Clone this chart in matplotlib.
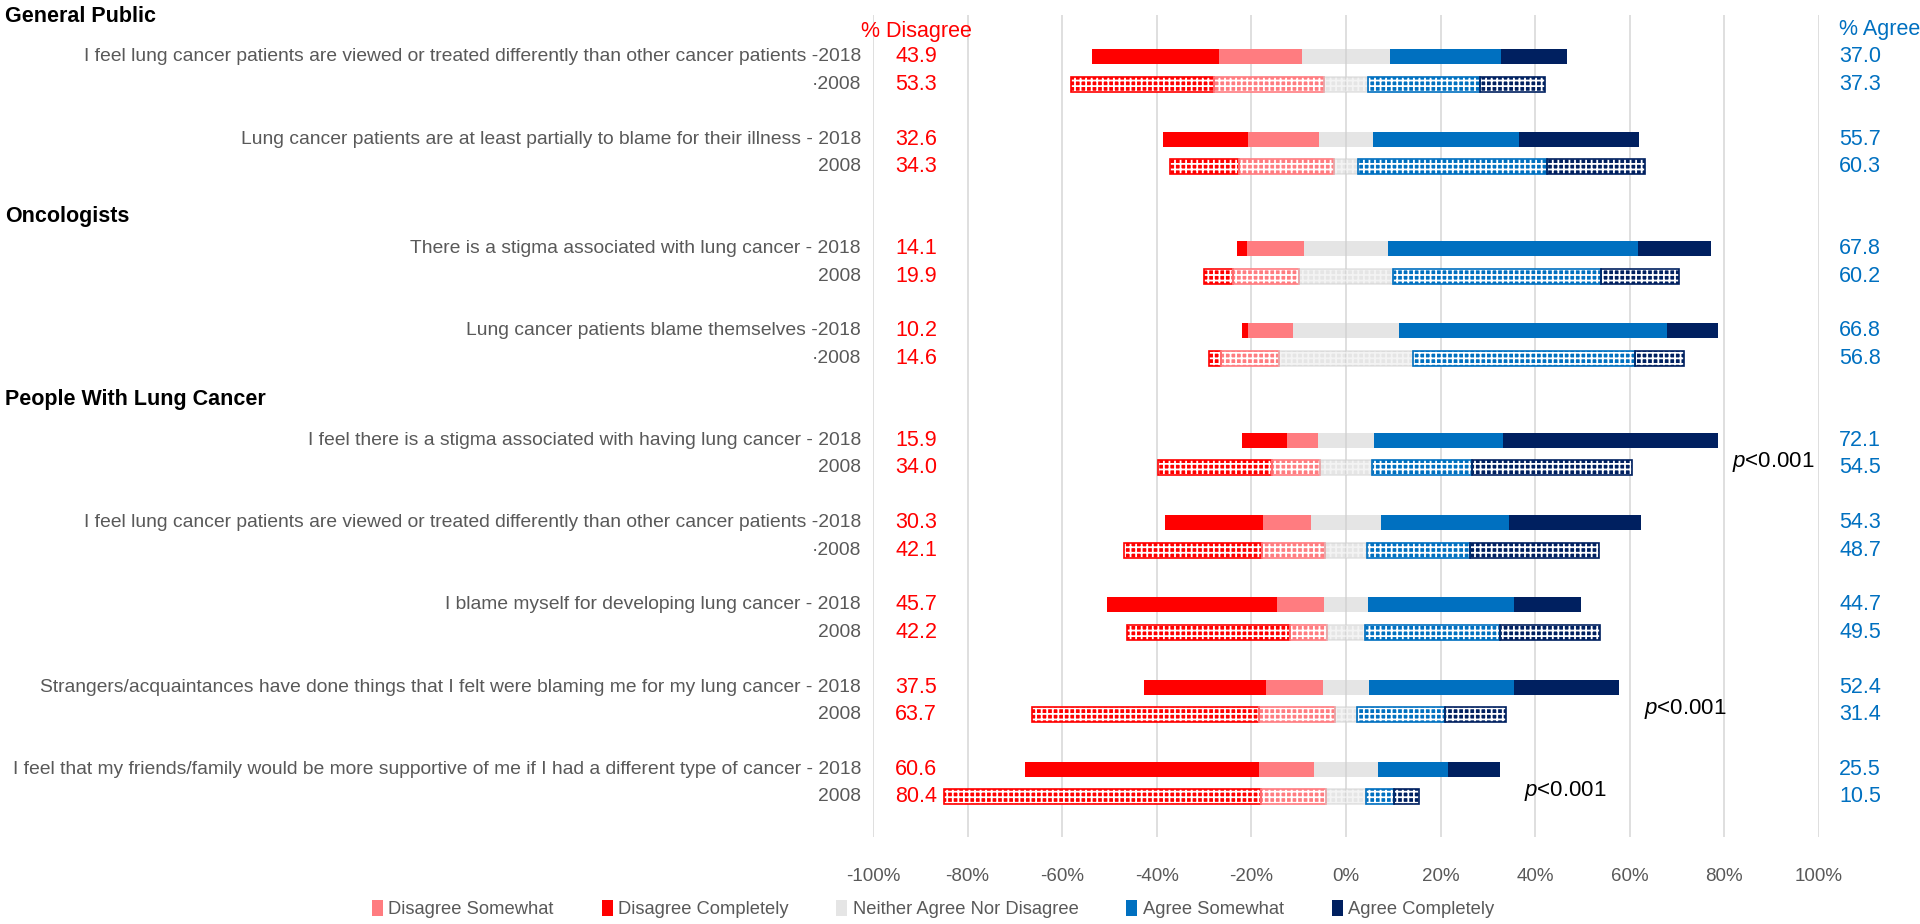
import matplotlib
matplotlib.use("Agg")
import matplotlib.pyplot as plt
import matplotlib.transforms as mtransforms
from matplotlib.patches import Patch
import numpy as np

plt.rcParams["font.family"] = ["Liberation Sans", "DejaVu Sans"]
plt.rcParams["mathtext.fontset"] = "custom"
plt.rcParams["mathtext.it"] = "Liberation Sans:italic"
plt.rcParams["mathtext.rm"] = "Liberation Sans"
plt.rcParams["hatch.linewidth"] = 1.3

# ---- data ----
groups = ["General Public", "Oncologists", "People With Lung Cancer"]

labels_2018 = [
    "I feel lung cancer patients are viewed or treated differently than other cancer patients -2018",
    "Lung cancer patients are at least partially to blame for their illness - 2018",
    "There is a stigma associated with lung cancer - 2018",
    "Lung cancer patients blame themselves -2018",
    "I feel there is a stigma associated with having lung cancer - 2018",
    "I feel lung cancer patients are viewed or treated differently than other cancer patients -2018",
    "I blame myself for developing lung cancer - 2018",
    "Strangers/acquaintances have done things that I felt were blaming me for my lung cancer - 2018",
    "I feel that my friends/family would be more supportive of me if I had a different type of cancer - 2018",
]
labels_2008 = ["·2008", "2008", "2008", "·2008", "2008", "·2008", "2008", "2008", "2008"]

# 2018 survey segments (%)
dis_comp_2018 = [26.8, 17.9, 2.2, 1.3, 9.5, 20.6, 35.9, 25.8, 49.4]
dis_some_2018 = [17.5, 15.1, 12.1, 9.4, 6.6, 10.1, 10.0, 12.1, 11.7]
neutral_2018 = [18.7, 11.3, 17.7, 22.5, 11.7, 15.0, 9.3, 9.6, 13.4]
agr_some_2018 = [23.5, 30.9, 52.8, 56.7, 27.4, 26.9, 30.8, 30.8, 14.9]
agr_comp_2018 = [13.9, 25.3, 15.6, 10.8, 45.4, 27.9, 14.3, 22.1, 10.9]

# 2008 survey segments (%)
dis_comp_2008 = [30.3, 14.6, 6.1, 2.6, 24.2, 29.2, 34.6, 47.9, 66.9]
dis_some_2008 = [23.3, 20.1, 14.1, 12.2, 10.0, 13.3, 7.7, 16.1, 13.8]
neutral_2008 = [9.2, 5.1, 19.7, 28.4, 11.2, 8.8, 8.2, 4.6, 8.4]
agr_some_2008 = [23.7, 40.0, 44.1, 46.8, 21.0, 21.9, 28.4, 18.7, 6.0]
agr_comp_2008 = [13.8, 20.6, 16.5, 10.4, 33.9, 27.1, 21.3, 12.9, 5.2]

pct_disagree_2018 = ["43.9", "32.6", "14.1", "10.2", "15.9", "30.3", "45.7", "37.5", "60.6"]
pct_disagree_2008 = ["53.3", "34.3", "19.9", "14.6", "34.0", "42.1", "42.2", "63.7", "80.4"]
pct_agree_2018 = ["37.0", "55.7", "67.8", "66.8", "72.1", "54.3", "44.7", "52.4", "25.5"]
pct_agree_2008 = ["37.3", "60.3", "60.2", "56.8", "54.5", "48.7", "49.5", "31.4", "10.5"]

# significance notes: (question index, x position in %)
pvalue_questions = [4, 7, 8]
pvalue_x = [81.6, 63.0, 37.6]

categories = ["Disagree Somewhat", "Disagree Completely", "Neither Agree Nor Disagree",
              "Agree Somewhat", "Agree Completely"]
ticks = np.arange(-100, 101, 20)

# ---- style ----
C_DC = "#FF0000"
C_DS = "#FF7C80"
C_N = "#D0D0D0"
C_AS = "#0070C0"
C_AC = "#002060"
GREY_TXT = "#595959"

fig = plt.figure(figsize=(19.2, 9.24), dpi=100)
ax = fig.add_axes([873 / 1920, 1 - 837 / 924, 946 / 1920, 822 / 924])

# slot positions: each question is a pair of rows, groups get a header slot
slot_2018 = np.array([0, 3, 7, 10, 14, 17, 20, 23, 26], dtype=float)
slot_2008 = slot_2018 + 1
header_slot = [-1.46, 5.84, 12.52]
bar_h = 0.55


def draw_rows(y, dc, ds, nn, as_, ac, hatched):
    dc, ds, nn, as_, ac = map(np.array, (dc, ds, nn, as_, ac))
    start = -(nn / 2 + ds + dc)
    segs = [(dc, C_DC, 1.0), (ds, C_DS, 1.0), (nn, C_N, 0.55), (as_, C_AS, 1.0), (ac, C_AC, 1.0)]
    left = start.copy()
    for w, col, a in segs:
        if hatched:
            ax.barh(y, w, left=left, height=bar_h, color=col, alpha=a,
                    edgecolor="white", linewidth=0, hatch="+++", zorder=2)
            ax.barh(y, w, left=left, height=bar_h, facecolor="none",
                    edgecolor=col, alpha=a, linewidth=1.2, zorder=3)
        else:
            ax.barh(y, w, left=left, height=bar_h, color=col, alpha=a,
                    linewidth=0, zorder=2)
        left = left + w


draw_rows(slot_2018, dis_comp_2018, dis_some_2018, neutral_2018, agr_some_2018, agr_comp_2018, False)
draw_rows(slot_2008, dis_comp_2008, dis_some_2008, neutral_2008, agr_some_2008, agr_comp_2008, True)

ax.set_xlim(-100, 100)
ax.set_ylim(28.47, -1.53)
ax.set_xticks(ticks)
ax.set_xticklabels([f"{t}%" for t in ticks], fontsize=13.5, color=GREY_TXT)
ax.tick_params(axis="x", length=0, pad=22)
ax.set_yticks([])
for s in ax.spines.values():
    s.set_visible(False)
ax.grid(axis="x", color="#D9D9D9", linewidth=1.2, zorder=0)
ax.set_axisbelow(True)

# text
tr = mtransforms.blended_transform_factory(fig.transFigure, ax.transData)
for i in range(len(labels_2018)):
    ax.text(861 / 1920, slot_2018[i], labels_2018[i], transform=tr, ha="right", va="center",
            fontsize=13.9, color=GREY_TXT)
    ax.text(861 / 1920, slot_2008[i], labels_2008[i], transform=tr, ha="right", va="center",
            fontsize=13.9, color=GREY_TXT)
    ax.text(916 / 1920, slot_2018[i], pct_disagree_2018[i], transform=tr, ha="center",
            va="center", fontsize=15.5, color=C_DC)
    ax.text(916 / 1920, slot_2008[i], pct_disagree_2008[i], transform=tr, ha="center",
            va="center", fontsize=15.5, color=C_DC)
    ax.text(1839 / 1920, slot_2018[i], pct_agree_2018[i], transform=tr, ha="left",
            va="center", fontsize=15.5, color=C_AS)
    ax.text(1839 / 1920, slot_2008[i], pct_agree_2008[i], transform=tr, ha="left",
            va="center", fontsize=15.5, color=C_AS)

for g, ys in zip(groups, header_slot):
    ax.text(5 / 1920, ys, g, transform=tr, ha="left", va="center", fontsize=15.5,
            fontweight="bold", color="black")

ax.text(916 / 1920, -0.91, "% Disagree", transform=tr, ha="center", va="center",
        fontsize=15.5, color=C_DC)
ax.text(1839 / 1920, -0.99, "% Agree", transform=tr, ha="left", va="center",
        fontsize=15.5, color=C_AS)

for q, px in zip(pvalue_questions, pvalue_x):
    ax.text(px, slot_2018[q] + 0.8, r"$\it{p}$<0.001", ha="left", va="center",
            fontsize=16, color="black", clip_on=False)

handles = [Patch(facecolor=c, edgecolor="none", alpha=a) for c, a in
           [(C_DS, 1), (C_DC, 1), (C_N, 0.55), (C_AS, 1), (C_AC, 1)]]
fig.legend(handles, categories, loc="center", bbox_to_anchor=(0.486, 1 - 909 / 924),
           ncol=5, frameon=False, fontsize=13.2, handlelength=0.6, handleheight=1.0,
           handletextpad=0.3, columnspacing=2.6, labelcolor=GREY_TXT)

fig.savefig("out.png", dpi=100)
